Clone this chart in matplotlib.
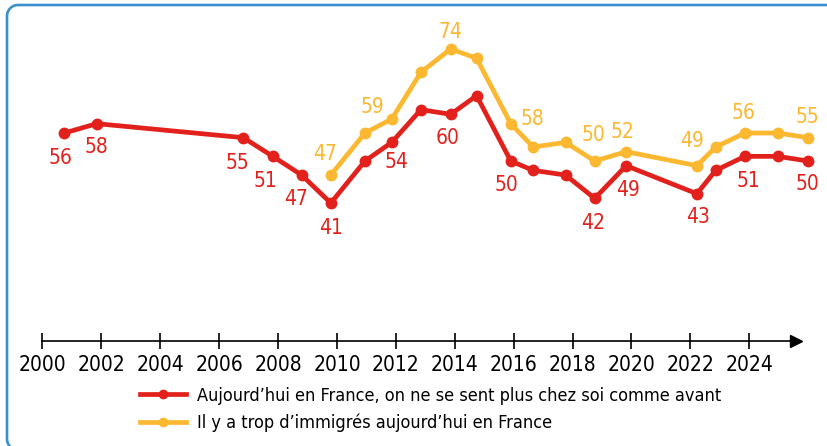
import matplotlib
matplotlib.use("Agg")
import numpy as np
import matplotlib.pyplot as plt
from matplotlib import font_manager as fm
from matplotlib.lines import Line2D
from matplotlib.transforms import IdentityTransform

# Donnees (annee de l'enquete, en fraction d'annee)
annees_chez_soi = [2000.74, 2001.84, 2006.82, 2007.82, 2008.80, 2009.79, 2010.95,
                   2011.86, 2012.85, 2013.86, 2014.74, 2015.90, 2016.66, 2017.76,
                   2018.75, 2019.82, 2022.22, 2022.86, 2023.85, 2024.97, 2025.99]
chez_soi = [56, 58, 55, 51, 47, 41, 50, 54, 61, 60, 64, 50, 48, 47, 42, 49, 43, 48, 51, 51, 50]

annees_immigres = [2009.79, 2010.95, 2011.86, 2012.85, 2013.86, 2014.74, 2015.90,
                   2016.66, 2017.76, 2018.75, 2019.82, 2022.22, 2022.86, 2023.85,
                   2024.97, 2025.99]
immigres = [47, 56, 59, 69, 74, 72, 58, 53, 54, 50, 52, 49, 53, 56, 56, 55]

labels_series = ["Aujourd\u2019hui en France, on ne se sent plus chez soi comme avant",
                 "Il y a trop d\u2019immigr\u00e9s aujourd\u2019hui en France"]
annees_ticks = list(range(2000, 2025, 2))

# points etiquetes -> decalage de l'etiquette (en points)
etiq_rouge = {0: (-3, -18), 1: (0, -17), 2: (-4.5, -18), 3: (-5, -17.5), 4: (-4, -17),
              5: (0, -18), 7: (3.6, -14.4), 9: (-2, -16.7), 11: (-3.4, -17.3),
              14: (-1, -18), 15: (1.4, -17.6), 16: (0.7, -16.5), 18: (2.3, -17.8),
              20: (0, -16.4)}
etiq_jaune = {0: (-4, 15), 2: (-13.7, 8.6), 4: (0, 12), 6: (15.6, 3), 9: (-0.7, 18.4),
              10: (-2.4, 14.3), 11: (-3.2, 17.7), 13: (-0.7, 14.7), 15: (0, 14.7)}

rouge = "#e2211c"
jaune = "#fbb830"
bleu = "#3a8fcd"

# police etroite si dispo
noms = {f.name for f in fm.fontManager.ttflist}
police = None
if 'Liberation Sans Narrow' in noms:
    police = fm.FontProperties(family='Liberation Sans Narrow')
else:
    for f in fm.fontManager.ttflist:
        if 'DejaVuSansCondensed.ttf' in f.fname:
            police = fm.FontProperties(fname=f.fname)
            break
if police is None:
    police = fm.FontProperties(family='Roboto', stretch='condensed')

fig = plt.figure(figsize=(8.28, 4.46), dpi=100)
ax = fig.add_axes([0, 0, 1, 1])
ax.set_xlim(1998.557, 2026.673)
ax.set_ylim(-11.02, 84.48)

# cadre bleu : bord gauche + haut, coins arrondis (en pixels)
r = 11
t1 = np.linspace(np.pi, 1.5 * np.pi, 12)
t2 = np.linspace(np.pi, 0.5 * np.pi, 12)
cx = np.concatenate([[7 + r + 3], 7 + r + r * np.cos(t1)[::-1], 7 + r + r * np.cos(t2), [829]])
cy = np.concatenate([[-4], -4 + r + r * np.sin(t1)[::-1], 441 - r + r * np.sin(t2), [441]])
cadre = Line2D(cx, cy, color=bleu, lw=1.9, transform=IdentityTransform(), clip_on=False)
fig.add_artist(cadre)

ax.plot(annees_immigres, immigres, color=jaune, lw=3.4, marker='o', markersize=7.5,
        solid_capstyle='round', zorder=3, clip_on=False)
ax.plot(annees_chez_soi, chez_soi, color=rouge, lw=3.4, marker='o', markersize=7.5,
        solid_capstyle='round', zorder=4, clip_on=False)

for i, (dx, dy) in etiq_rouge.items():
    ax.annotate(str(chez_soi[i]), (annees_chez_soi[i], chez_soi[i]), xytext=(dx, dy),
                textcoords='offset points', ha='center', va='center', color=rouge,
                fontproperties=police, fontsize=15)
for i, (dx, dy) in etiq_jaune.items():
    ax.annotate(str(immigres[i]), (annees_immigres[i], immigres[i]), xytext=(dx, dy),
                textcoords='offset points', ha='center', va='center', color=jaune,
                fontproperties=police, fontsize=15)

# axe du temps avec fleche
for s in ['left', 'right', 'top']:
    ax.spines[s].set_visible(False)
ax.spines['bottom'].set_position(('data', 11.46))
ax.spines['bottom'].set_bounds(2000, 2025.5)
ax.spines['bottom'].set_linewidth(1.2)
ax.plot([2025.6], [11.46], marker='>', color='black', markersize=9, clip_on=False)
ax.set_yticks([])
ax.set_xticks(annees_ticks)
ax.set_xticklabels([str(a) for a in annees_ticks], fontproperties=police, fontsize=15)
ax.tick_params(axis='x', direction='inout', length=12, width=1.2, pad=4)

poignees = [Line2D([], [], color=rouge, lw=3.4, marker='o', markersize=6),
            Line2D([], [], color=jaune, lw=3.4, marker='o', markersize=6)]
leg_police = police.copy()
leg_police.set_size(13)
ax.legend(poignees, labels_series, loc='upper left', bbox_to_anchor=(0.169, 0.133),
          frameon=False, prop=leg_police, handlelength=2.55, handletextpad=0.6,
          labelspacing=0.5, borderpad=0, borderaxespad=0)

fig.savefig("out.png", dpi=100)
